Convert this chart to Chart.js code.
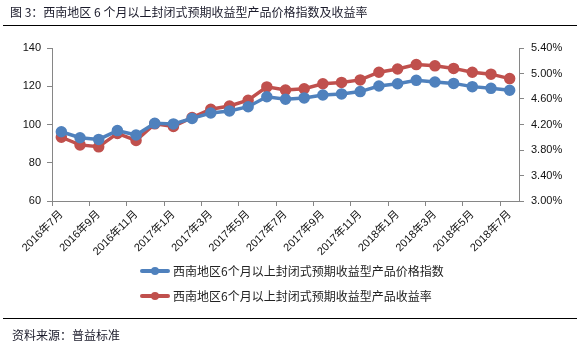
<!DOCTYPE html>
<html>
<head>
<meta charset="utf-8">
<script src="https://cdn.jsdelivr.net/npm/chart.js@4.4.1/dist/chart.umd.min.js"></script>
<style>
  html, body { margin: 0; padding: 0; background: #fff; }
  #wrap { position: relative; width: 580px; height: 354px; overflow: hidden; font-family: "Noto Sans CJK SC", "Liberation Sans", sans-serif; }
  #c { position: absolute; left: 0; top: 0; }
  .title { position: absolute; left: 10px; top: 4px; font-size: 12px; color: #1a1a2a; white-space: nowrap; line-height: 16px; }
  .rule { position: absolute; left: 3px; width: 574px; height: 0; border-top: 1.5px solid #000; }
  .footer { position: absolute; left: 12px; top: 327px; font-size: 12px; color: #1a1a2a; white-space: nowrap; line-height: 16px; }
  .legend { position: absolute; left: 140px; font-size: 12px; color: #222; white-space: nowrap; line-height: 16px; }
  .legend .sw { position: absolute; left: 0; top: 6px; width: 30px; height: 4px; border-radius: 2px; }
  .legend .dot { position: absolute; left: 11px; top: 4px; width: 8px; height: 8px; border-radius: 50%; }
  .legend .txt { position: absolute; left: 33px; top: 0; }
</style>
</head>
<body>
<div id="wrap">
  <canvas id="c" width="580" height="354"></canvas>
  <div class="title" id="title"></div>
  <div class="rule" style="top:25px"></div>
  <div class="legend" id="leg0" style="top:263px"><div class="sw"></div><div class="dot"></div><div class="txt"></div></div>
  <div class="legend" id="leg1" style="top:288px"><div class="sw"></div><div class="dot"></div><div class="txt"></div></div>
  <div class="rule" style="top:318px"></div>
  <div class="footer" id="footer"></div>
</div>
<script>
const titleText = '图 3：西南地区 6 个月以上封闭式预期收益型产品价格指数及收益率';
const sourceText = '资料来源：普益标准';
const months = ['2016年7月','2016年8月','2016年9月','2016年10月','2016年11月','2016年12月',
  '2017年1月','2017年2月','2017年3月','2017年4月','2017年5月','2017年6月',
  '2017年7月','2017年8月','2017年9月','2017年10月','2017年11月','2017年12月',
  '2018年1月','2018年2月','2018年3月','2018年4月','2018年5月','2018年6月','2018年7月'];
const seriesNames = ['西南地区6个月以上封闭式预期收益型产品价格指数', '西南地区6个月以上封闭式预期收益型产品收益率'];
const indexValues = [96.2, 93.1, 92.2, 96.8, 94.5, 100.6, 100.3, 103.2, 106.0, 107.1, 109.3, 114.5, 113.2,
  113.9, 115.4, 116.0, 117.2, 120.1, 121.3, 123.1, 122.2, 121.5, 119.8, 118.9, 117.9];
const yieldValues = [4.00, 3.88, 3.85, 4.06, 3.95, 4.21, 4.17, 4.31, 4.44, 4.49, 4.58, 4.79, 4.74,
  4.76, 4.84, 4.86, 4.90, 5.02, 5.07, 5.14, 5.12, 5.08, 5.02, 4.99, 4.92];
const colors = ['#4F81BD', '#C0504D'];

document.getElementById('title').textContent = titleText;
document.getElementById('footer').textContent = sourceText;
[0, 1].forEach(i => {
  const el = document.getElementById('leg' + i);
  el.querySelector('.sw').style.background = colors[i];
  el.querySelector('.dot').style.background = colors[i];
  el.querySelector('.txt').textContent = seriesNames[i];
});

const axisColor = '#868686';
const tickFont = { family: '"Liberation Sans", "Noto Sans CJK SC", sans-serif', size: 11 };

new Chart(document.getElementById('c'), {
  type: 'line',
  data: {
    labels: months,
    datasets: [
      { label: seriesNames[0], data: indexValues, yAxisID: 'y', borderColor: colors[0], backgroundColor: colors[0],
        borderWidth: 3.5, pointRadius: 4, pointBackgroundColor: colors[0], pointBorderColor: colors[0], tension: 0 },
      { label: seriesNames[1], data: yieldValues, yAxisID: 'y1', borderColor: colors[1], backgroundColor: colors[1],
        borderWidth: 3.5, pointRadius: 4, pointBackgroundColor: colors[1], pointBorderColor: colors[1], tension: 0 }
    ]
  },
  options: {
    responsive: false,
    animation: false,
    layout: { padding: { top: 48, left: 0, right: 0, bottom: 0 } },
    plugins: { legend: { display: false }, tooltip: { enabled: false } },
    scales: {
      x: {
        offset: true,
        grid: { display: true, offset: true, drawOnChartArea: false, tickLength: 5,
          color: axisColor,
          tickColor: (ctx) => (ctx.index % 2 === 0 ? axisColor : 'rgba(0,0,0,0)') },
        border: { display: true, color: axisColor, width: 1 },
        ticks: { autoSkip: false, minRotation: 45, maxRotation: 45, padding: 2, color: '#111', font: tickFont,
          callback: function(v, i) { return i % 2 === 0 ? this.getLabelForValue(v) : ''; } },
        afterFit: (s) => { s.height = 153; }
      },
      y: {
        position: 'left', min: 60, max: 140,
        ticks: { stepSize: 20, padding: 6, color: '#111', font: tickFont },
        grid: { drawOnChartArea: false, tickLength: 5, color: axisColor },
        border: { display: true, color: axisColor, width: 1 },
        afterFit: (s) => { s.width = 52; }
      },
      y1: {
        position: 'right', min: 3.0, max: 5.4,
        ticks: { stepSize: 0.4, padding: 7, color: '#111', font: tickFont,
          callback: (v) => v.toFixed(2) + '%' },
        grid: { drawOnChartArea: false, tickLength: 5, color: axisColor },
        border: { display: true, color: axisColor, width: 1 },
        afterFit: (s) => { s.width = 61; }
      }
    }
  }
});
</script>
</body>
</html>
